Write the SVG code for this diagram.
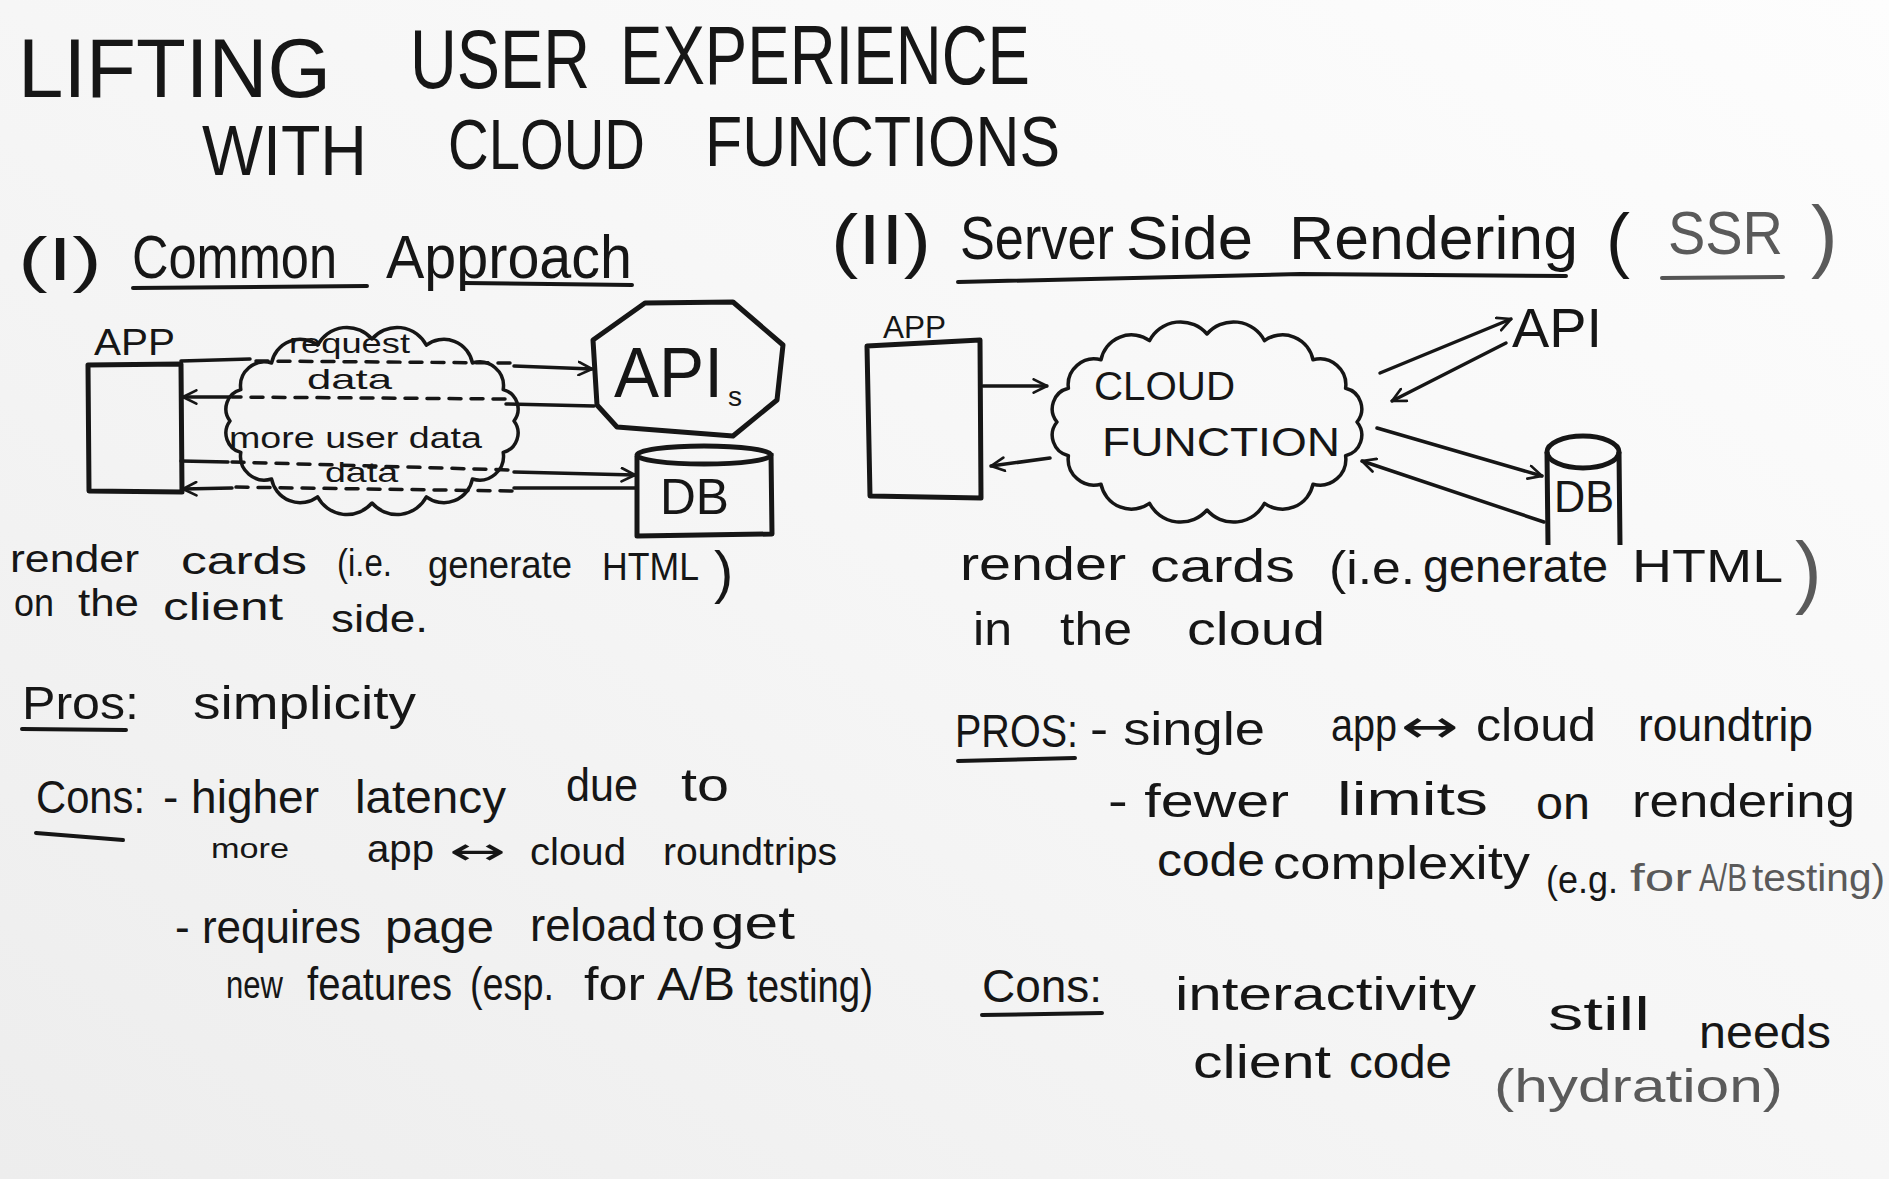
<svg xmlns="http://www.w3.org/2000/svg" width="1889" height="1179" viewBox="0 0 1889 1179">
<defs>
<linearGradient id="bg" x1="0" y1="1" x2="1" y2="0">
<stop offset="0" stop-color="#ededed"/>
<stop offset="0.5" stop-color="#f6f6f6"/>
<stop offset="1" stop-color="#fdfdfd"/>
</linearGradient>
<marker id="ah" viewBox="0 0 12 12" refX="11" refY="6" markerWidth="16" markerHeight="16" markerUnits="userSpaceOnUse" orient="auto">
<path d="M1,1 L11,6 L1,11" fill="none" stroke="#161616" stroke-width="2" stroke-linecap="round" stroke-linejoin="round"/>
</marker>
<style>
.t{font-family:"Liberation Sans",Arial,sans-serif;fill:#161616}
.ti{font-size:84px}
.ti2{font-size:70px}
.h{font-size:62px}
.b{font-size:46px}
.b2{font-size:38px}
.m{font-size:38px}
.s{font-size:28px}
.g{fill:#5a5a5a}
.ln{stroke:#161616;stroke-width:3.5;fill:none;stroke-linecap:round;stroke-linejoin:round}
.bx{stroke:#161616;stroke-width:5;fill:none;stroke-linejoin:round}
.dash{stroke-dasharray:12 10}
.ul{stroke:#161616;stroke-width:4;fill:none;stroke-linecap:round}
</style>
</defs>
<rect x="0" y="0" width="1889" height="1179" fill="url(#bg)"/>

<g id="title">
<text class="t ti" x="18" y="97" textLength="313" lengthAdjust="spacingAndGlyphs">LIFTING</text>
<text class="t ti" x="410" y="88" textLength="180" lengthAdjust="spacingAndGlyphs">USER</text>
<text class="t ti" x="620" y="84" textLength="410" lengthAdjust="spacingAndGlyphs">EXPERIENCE</text>
<text class="t ti2" x="202" y="175" textLength="165" lengthAdjust="spacingAndGlyphs">WITH</text>
<text class="t ti2" x="448" y="169" textLength="197" lengthAdjust="spacingAndGlyphs">CLOUD</text>
<text class="t ti2" x="705" y="166" textLength="355" lengthAdjust="spacingAndGlyphs">FUNCTIONS</text>
</g>

<g id="heading-1">
<text class="t h" x="18" y="280" textLength="84" lengthAdjust="spacingAndGlyphs">(I)</text>
<text class="t h" x="132" y="278" textLength="205" lengthAdjust="spacingAndGlyphs">Common</text>
<text class="t h" x="386" y="278" textLength="246" lengthAdjust="spacingAndGlyphs">Approach</text>
<path class="ul" d="M133,288 L367,286"/>
<path class="ul" d="M464,283 L632,285"/>
</g>

<g id="heading-2">
<text class="t" style="font-size:70px" x="831" y="264" textLength="100" lengthAdjust="spacingAndGlyphs">(II)</text>
<text class="t h" x="960" y="259" textLength="154" lengthAdjust="spacingAndGlyphs">Server</text>
<text class="t h" x="1126" y="259" textLength="127" lengthAdjust="spacingAndGlyphs">Side</text>
<text class="t h" x="1289" y="259" textLength="289" lengthAdjust="spacingAndGlyphs">Rendering</text>
<text class="t" style="font-size:72px" x="1606" y="264">(</text>
<text class="t h g" x="1668" y="254" textLength="115" lengthAdjust="spacingAndGlyphs">SSR</text>
<text class="t g" style="font-size:80px" x="1811" y="262">)</text>
<path class="ul" d="M958,282 L1300,274 L1566,276"/>
<path class="ul" style="stroke:#555" d="M1662,278 L1783,277"/>
</g>

<g id="connectors">
<!-- left diagram -->
<path class="ln" d="M181,361 L250,359"/>
<path class="ln dash" d="M256,361 L512,363"/>
<path class="ln" d="M514,366 L592,369" marker-end="url(#ah)"/>
<path class="ln" d="M594,406 L506,404"/>
<path class="ln dash" d="M505,399 L232,397"/>
<path class="ln" d="M230,397 L183,397" marker-end="url(#ah)"/>
<path class="ln" d="M181,461 L228,462"/>
<path class="ln dash" d="M232,462 L512,470"/>
<path class="ln" d="M514,472 L635,475" marker-end="url(#ah)"/>
<path class="ln" d="M636,488 L514,488"/>
<path class="ln dash" d="M512,491 L228,487"/>
<path class="ln" d="M232,488 L183,489" marker-end="url(#ah)"/>
<!-- right diagram -->
<path class="ln" d="M983,386 L1047,386" marker-end="url(#ah)"/>
<path class="ln" d="M1050,458 L991,466" marker-end="url(#ah)"/>
<path class="ln" d="M1380,373 L1511,319" marker-end="url(#ah)"/>
<path class="ln" d="M1506,343 L1392,401" marker-end="url(#ah)"/>
<path class="ln" d="M1377,428 L1542,476" marker-end="url(#ah)"/>
<path class="ln" d="M1544,522 L1362,461" marker-end="url(#ah)"/>
</g>

<g id="app-1">
<text class="t" style="font-size:36px" x="94" y="355" textLength="81" lengthAdjust="spacingAndGlyphs">APP</text>
<path class="bx" d="M88,365 L181,364 L182,492 L89,491 Z"/>
</g>

<g id="cloud-1">
<path class="ln" d="M514,421 A20,20 0 0 1 503.2,452.4 A24,24 0 0 1 472.4,479 A29,29 0 0 1 426.4,496.8 A33,33 0 0 1 372,503 A33,33 0 0 1 317.6,496.8 A29,29 0 0 1 271.6,479 A24,24 0 0 1 240.8,452.4 A20,20 0 0 1 230,421 A20,20 0 0 1 240.8,389.6 A24,24 0 0 1 271.6,363 A29,29 0 0 1 317.6,345.2 A33,33 0 0 1 372,339 A33,33 0 0 1 426.4,345.2 A29,29 0 0 1 472.4,363 A24,24 0 0 1 503.2,389.6 A20,20 0 0 1 514,421 Z"/>
<text class="t s" x="289" y="353" textLength="121" lengthAdjust="spacingAndGlyphs">request</text>
<text class="t s" x="307" y="389" textLength="85" lengthAdjust="spacingAndGlyphs">data</text>
<text class="t" style="font-size:30px" x="229" y="448" textLength="253" lengthAdjust="spacingAndGlyphs">more user data</text>
<text class="t s" x="325" y="482" textLength="73" lengthAdjust="spacingAndGlyphs">data</text>
</g>

<g id="apis">
<path class="bx" d="M645,303 L733,302 L783,345 L777,400 L733,436 L617,427 L597,405 L593,340 Z"/>
<text class="t" style="font-size:70px" x="614" y="397" textLength="109" lengthAdjust="spacingAndGlyphs">API</text>
<text class="t s" x="728" y="406">s</text>
</g>

<g id="db-1">
<path class="bx" d="M637,456 L637,536 L772,534 L771,453"/>
<ellipse class="bx" cx="704" cy="455" rx="67" ry="9"/>
<text class="t" style="font-size:50px" x="660" y="514" textLength="69" lengthAdjust="spacingAndGlyphs">DB</text>
</g>

<g id="app-2">
<text class="t" style="font-size:32px" x="883" y="338" textLength="63" lengthAdjust="spacingAndGlyphs">APP</text>
<path class="bx" d="M867,346 L980,340 L981,498 L870,496 Z"/>
</g>

<g id="cloud-function">
<path class="ln" d="M1357,422 A21,21 0 0 1 1345.6,455.7 A26,26 0 0 1 1313,484.2 A31,31 0 0 1 1264.5,503.3 A35,35 0 0 1 1207,510 A35,35 0 0 1 1149.5,503.3 A31,31 0 0 1 1101,484.2 A26,26 0 0 1 1068.4,455.7 A21,21 0 0 1 1057,422 A21,21 0 0 1 1068.4,388.3 A26,26 0 0 1 1101,359.8 A31,31 0 0 1 1149.5,340.7 A35,35 0 0 1 1207,334 A35,35 0 0 1 1264.5,340.7 A31,31 0 0 1 1313,359.8 A26,26 0 0 1 1345.6,388.3 A21,21 0 0 1 1357,422 Z"/>
<text class="t" style="font-size:40px" x="1094" y="400" textLength="141" lengthAdjust="spacingAndGlyphs">CLOUD</text>
<text class="t" style="font-size:40px" x="1102" y="456" textLength="238" lengthAdjust="spacingAndGlyphs">FUNCTION</text>
</g>

<g id="api-2">
<text class="t" style="font-size:56px" x="1512" y="347" textLength="90" lengthAdjust="spacingAndGlyphs">API</text>
</g>

<g id="db-2">
<path class="bx" d="M1547,452 L1548,545 M1619,452 L1620,545"/>
<ellipse class="bx" cx="1583" cy="452" rx="36" ry="16"/>
<text class="t" style="font-size:44px" x="1554" y="512" textLength="60" lengthAdjust="spacingAndGlyphs">DB</text>
</g>

<g id="notes-left">
<text class="t b2" x="10" y="572" textLength="129" lengthAdjust="spacingAndGlyphs">render</text>
<text class="t b2" x="181" y="574" textLength="126" lengthAdjust="spacingAndGlyphs">cards</text>
<text class="t b2" x="337" y="576" textLength="55" lengthAdjust="spacingAndGlyphs">(i.e.</text>
<text class="t b2" x="428" y="578" textLength="144" lengthAdjust="spacingAndGlyphs">generate</text>
<text class="t b2" x="602" y="580" textLength="97" lengthAdjust="spacingAndGlyphs">HTML</text>
<text class="t" style="font-size:58px" x="714" y="592">)</text>
<text class="t b2" x="14" y="616" textLength="40" lengthAdjust="spacingAndGlyphs">on</text>
<text class="t b2" x="78" y="616" textLength="61" lengthAdjust="spacingAndGlyphs">the</text>
<text class="t b2" x="163" y="620" textLength="120" lengthAdjust="spacingAndGlyphs">client</text>
<text class="t b2" x="331" y="632" textLength="97" lengthAdjust="spacingAndGlyphs">side.</text>

<text class="t b" x="22" y="719" textLength="117" lengthAdjust="spacingAndGlyphs">Pros:</text>
<path class="ul" d="M22,729 L126,730"/>
<text class="t b" x="193" y="719" textLength="223" lengthAdjust="spacingAndGlyphs">simplicity</text>

<text class="t b" x="36" y="813" textLength="109" lengthAdjust="spacingAndGlyphs">Cons:</text>
<path class="ul" d="M36,833 L123,840"/>
<text class="t b" x="163" y="813" textLength="156" lengthAdjust="spacingAndGlyphs">- higher</text>
<text class="t b" x="355" y="813" textLength="151" lengthAdjust="spacingAndGlyphs">latency</text>
<text class="t b" x="566" y="801" textLength="72" lengthAdjust="spacingAndGlyphs">due</text>
<text class="t b" x="681" y="801" textLength="48" lengthAdjust="spacingAndGlyphs">to</text>

<text class="t s" x="211" y="858" textLength="78" lengthAdjust="spacingAndGlyphs">more</text>
<text class="t m" x="367" y="862" textLength="67" lengthAdjust="spacingAndGlyphs">app</text>
<text class="t m" style="font-family:'DejaVu Sans',sans-serif" x="449" y="864" textLength="57" lengthAdjust="spacingAndGlyphs">↔</text>
<text class="t m" x="530" y="865" textLength="96" lengthAdjust="spacingAndGlyphs">cloud</text>
<text class="t m" x="663" y="865" textLength="174" lengthAdjust="spacingAndGlyphs">roundtrips</text>

<text class="t b" x="175" y="943" textLength="186" lengthAdjust="spacingAndGlyphs">- requires</text>
<text class="t b" x="385" y="943" textLength="109" lengthAdjust="spacingAndGlyphs">page</text>
<text class="t b" x="530" y="941" textLength="127" lengthAdjust="spacingAndGlyphs">reload</text>
<text class="t b" x="663" y="941" textLength="42" lengthAdjust="spacingAndGlyphs">to</text>
<text class="t b" x="711" y="939" textLength="84" lengthAdjust="spacingAndGlyphs">get</text>

<text class="t m" x="226" y="998" textLength="57" lengthAdjust="spacingAndGlyphs">new</text>
<text class="t b" x="307" y="1000" textLength="145" lengthAdjust="spacingAndGlyphs">features</text>
<text class="t b" x="470" y="1000" textLength="84" lengthAdjust="spacingAndGlyphs">(esp.</text>
<text class="t b" x="584" y="1000" textLength="61" lengthAdjust="spacingAndGlyphs">for</text>
<text class="t b" x="657" y="1000" textLength="78" lengthAdjust="spacingAndGlyphs">A/B</text>
<text class="t b" x="747" y="1002" textLength="126" lengthAdjust="spacingAndGlyphs">testing)</text>
</g>

<g id="notes-right">
<text class="t b" x="960" y="580" textLength="166" lengthAdjust="spacingAndGlyphs">render</text>
<text class="t b" x="1150" y="582" textLength="145" lengthAdjust="spacingAndGlyphs">cards</text>
<text class="t b" x="1329" y="584" textLength="86" lengthAdjust="spacingAndGlyphs">(i.e.</text>
<text class="t b" x="1423" y="582" textLength="185" lengthAdjust="spacingAndGlyphs">generate</text>
<text class="t b" x="1632" y="582" textLength="151" lengthAdjust="spacingAndGlyphs">HTML</text>
<text class="t g" style="font-size:80px" x="1795" y="598">)</text>
<text class="t b" x="973" y="645" textLength="39" lengthAdjust="spacingAndGlyphs">in</text>
<text class="t b" x="1060" y="645" textLength="72" lengthAdjust="spacingAndGlyphs">the</text>
<text class="t b" x="1187" y="645" textLength="138" lengthAdjust="spacingAndGlyphs">cloud</text>

<text class="t b" x="955" y="747" textLength="123" lengthAdjust="spacingAndGlyphs">PROS:</text>
<path class="ul" d="M958,761 L1075,758"/>
<text class="t b" x="1090" y="745" textLength="175" lengthAdjust="spacingAndGlyphs">- single</text>
<text class="t b" x="1331" y="741" textLength="66" lengthAdjust="spacingAndGlyphs">app</text>
<text class="t b" style="font-family:'DejaVu Sans',sans-serif" x="1401" y="742" textLength="58" lengthAdjust="spacingAndGlyphs">↔</text>
<text class="t b" x="1476" y="741" textLength="120" lengthAdjust="spacingAndGlyphs">cloud</text>
<text class="t b" x="1638" y="741" textLength="175" lengthAdjust="spacingAndGlyphs">roundtrip</text>

<text class="t b" x="1108" y="817" textLength="181" lengthAdjust="spacingAndGlyphs">- fewer</text>
<text class="t b" x="1337" y="815" textLength="151" lengthAdjust="spacingAndGlyphs">limits</text>
<text class="t b" x="1536" y="819" textLength="54" lengthAdjust="spacingAndGlyphs">on</text>
<text class="t b" x="1632" y="817" textLength="223" lengthAdjust="spacingAndGlyphs">rendering</text>

<text class="t b" x="1157" y="876" textLength="108" lengthAdjust="spacingAndGlyphs">code</text>
<text class="t b" x="1273" y="879" textLength="257" lengthAdjust="spacingAndGlyphs">complexity</text>
<text class="t m" x="1546" y="893" textLength="72" lengthAdjust="spacingAndGlyphs">(e.g.</text>
<text class="t m g" x="1630" y="891" textLength="62" lengthAdjust="spacingAndGlyphs">for</text>
<text class="t m g" x="1699" y="891" textLength="48" lengthAdjust="spacingAndGlyphs">A/B</text>
<text class="t m g" x="1752" y="891" textLength="133" lengthAdjust="spacingAndGlyphs">testing)</text>

<text class="t b" x="982" y="1002" textLength="120" lengthAdjust="spacingAndGlyphs">Cons:</text>
<path class="ul" d="M982,1015 L1102,1013"/>
<text class="t b" x="1175" y="1010" textLength="301" lengthAdjust="spacingAndGlyphs">interactivity</text>
<text class="t b" x="1548" y="1030" textLength="102" lengthAdjust="spacingAndGlyphs">still</text>
<text class="t b" x="1699" y="1048" textLength="132" lengthAdjust="spacingAndGlyphs">needs</text>
<text class="t b" x="1193" y="1078" textLength="138" lengthAdjust="spacingAndGlyphs">client</text>
<text class="t b" x="1349" y="1078" textLength="103" lengthAdjust="spacingAndGlyphs">code</text>
<text class="t b g" x="1494" y="1102" textLength="289" lengthAdjust="spacingAndGlyphs">(hydration)</text>
</g>
</svg>
